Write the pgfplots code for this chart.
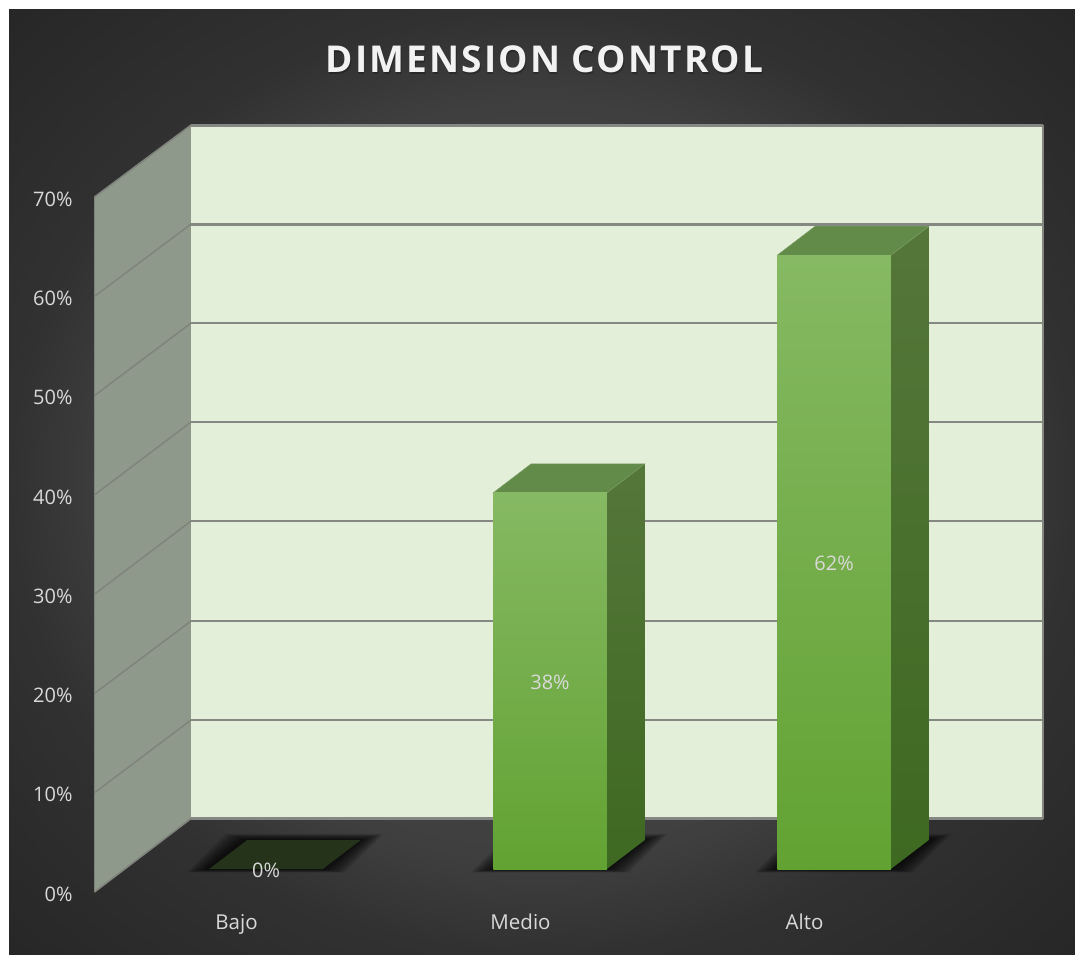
\documentclass[border=0pt]{standalone}
\usepackage{fontspec}
\usepackage{pgfplots}
\usepackage{pgfplotstable}
\pgfplotsset{compat=1.18}
\setmainfont{Open Sans}
\newfontfamily\titlefont[LetterSpace=5.8]{Open Sans}

\definecolor{lbl}{HTML}{D9D9D9}
\definecolor{wallback}{HTML}{E3EFD9}
\definecolor{wallside}{HTML}{8F998B}
\definecolor{gridc}{HTML}{858782}
\definecolor{sidegrid}{HTML}{7F837C}
\definecolor{face1}{HTML}{86B963}
\definecolor{face2}{HTML}{72B43E}
\definecolor{face3}{HTML}{62A232}
\definecolor{topface}{HTML}{628A48}
\definecolor{side1}{HTML}{55773A}
\definecolor{side2}{HTML}{3E6921}
\definecolor{zerotop}{HTML}{24331A}
\definecolor{bg0}{HTML}{505050}
\definecolor{bg1}{HTML}{3F3F3F}
\definecolor{bg2}{HTML}{313131}
\definecolor{bg3}{HTML}{262626}

\pgfdeclareradialshading{panelglow}{\pgfpointorigin}{%
  color(0bp)=(bg0); color(20bp)=(bg1); color(25bp)=(bg2); color(36bp)=(bg3); color(50bp)=(bg3)}

% Share of responses per level
\pgfplotstableread{
x v
0 0
1 38
2 62
}\levels

% Soft contact shadow on the floor under a column centred at #1
\newcommand{\floorshadow}[1]{%
  \pgfplotsinvokeforeach{1,...,18}{%
    \fill[black,opacity=.06]
      (axis cs:{#1-0.2-##1*0.0044},{-##1*0.019})
      -- (axis cs:{#1+0.2+##1*0.0044},{-##1*0.019})
      -- (axis cs:{#1+0.3338+##1*0.0044},{2.93+##1*0.034})
      -- (axis cs:{#1-0.0662-##1*0.0044},{2.93+##1*0.034})
      -- cycle;
  }%
}

\begin{document}
\begin{tikzpicture}
\useasboundingbox (0,0) rectangle (1075pt,954pt);
\fill[white] (0,0) rectangle (1075pt,954pt);
\shade[shading=panelglow] (9pt,0pt) rectangle (1075pt,944pt);

% Walls, gridlines and percent scale
\begin{axis}[
  at={(94.5pt,62pt)}, anchor=south west,
  scale only axis, width=948.5pt, height=695pt,
  xmin=0, xmax=948.5, ymin=0, ymax=70,
  clip=false, axis line style={draw=none},
  xtick=\empty,
  ytick={0,10,20,30,40,50,60,70},
  yticklabels={0\%,10\%,20\%,30\%,40\%,50\%,60\%,70\%},
  major tick length=0pt,
  tick label style={font=\fontsize{20}{24}\selectfont, text=lbl},
  yticklabel style={xshift=-18.5pt, yshift=-2pt},
  no markers,
]
\addplot[fill=wallside, draw=none] coordinates {(0,0) (96.5,7.4) (96.5,77.24) (0,70)} -- cycle;
\addplot[fill=wallback, draw=none] coordinates {(96.5,7.4) (948.5,7.4) (948.5,77.24) (96.5,77.24)} -- cycle;
% receding lines on the side wall
\addplot[sidegrid, line width=1.5pt] coordinates {(0,10) (96.5,17.32)};
\addplot[sidegrid, line width=1.5pt] coordinates {(0,20) (96.5,27.29)};
\addplot[sidegrid, line width=1.5pt] coordinates {(0,30) (96.5,37.36)};
\addplot[sidegrid, line width=1.5pt] coordinates {(0,40) (96.5,47.33)};
\addplot[sidegrid, line width=1.5pt] coordinates {(0,50) (96.5,57.3)};
\addplot[sidegrid, line width=1.5pt] coordinates {(0,60) (96.5,67.27)};
\addplot[sidegrid, line width=1.6pt] coordinates {(0,70) (96.5,77.24)};
\addplot[sidegrid, line width=1.6pt] coordinates {(0,0) (96.5,7.4)};
% horizontal lines on the back wall
\addplot[gridc, line width=2.8pt] coordinates {(96.5,17.32) (948.5,17.32)};
\addplot[gridc, line width=2.8pt] coordinates {(96.5,27.29) (948.5,27.29)};
\addplot[gridc, line width=2.8pt] coordinates {(96.5,37.36) (948.5,37.36)};
\addplot[gridc, line width=2.8pt] coordinates {(96.5,47.33) (948.5,47.33)};
\addplot[gridc, line width=2.8pt] coordinates {(96.5,57.3) (948.5,57.3)};
\addplot[gridc, line width=2.8pt] coordinates {(96.5,67.27) (948.5,67.27)};
\addplot[gridc, line width=2.8pt] coordinates {(96.5,77.24) (948.5,77.24)};
\addplot[gridc, line width=2.8pt] coordinates {(96.5,7.4) (948.5,7.4)};
\addplot[gridc, line width=1.2pt] coordinates {(948.5,7.4) (948.5,77.24)};
\addplot[sidegrid, line width=1pt] coordinates {(0,0) (0,70)};
\end{axis}

% Columns, their labels, category names and title
\begin{axis}[
  at={(0pt,62pt)}, anchor=south west,
  scale only axis, width=1075pt, height=882pt,
  xmin=-0.93662, xmax=2.8486, ymin=-2.323, ymax=86.768,
  clip=false, axis line style={draw=none},
  xtick={0,1,2}, xticklabels={Bajo,Medio,Alto},
  ytick=\empty, major tick length=0pt,
  tick label style={font=\fontsize{20.5}{24}\selectfont, text=lbl},
  xticklabel style={xshift=-29.5pt, yshift=-18pt, text height=16pt, text depth=5pt},
  /pgf/number format/assume math mode=true,
  no markers,
]
\floorshadow{0}
\floorshadow{1}
\floorshadow{2}

% zero-height column: only its top face remains, lying on the floor
\addplot[fill=zerotop, draw=none] coordinates {(-0.2,0) (0.2,0) (0.3338,2.93) (-0.0662,2.93)} -- cycle;

\addplot[shade, top color=side1, bottom color=side2, draw=none] coordinates {(1.2,0) (1.3338,2.93) (1.3338,40.93) (1.2,38)} -- cycle;
\addplot[fill=topface, draw=topface!85!white, line width=.5pt] coordinates {(0.8,38) (1.2,38) (1.3338,40.93) (0.9338,40.93)} -- cycle;
\addplot[shade, top color=side1, bottom color=side2, draw=none] coordinates {(2.2,0) (2.3338,2.93) (2.3338,64.93) (2.2,62)} -- cycle;
\addplot[fill=topface, draw=topface!85!white, line width=.5pt] coordinates {(1.8,62) (2.2,62) (2.3338,64.93) (1.9338,64.93)} -- cycle;

\addplot[ybar, bar width=113.5pt, draw=none, shade,
  top color=face1, middle color=face2, bottom color=face3]
  coordinates {(1,38)};
\addplot[ybar, bar width=113.5pt, draw=none, shade,
  top color=face1, middle color=face2, bottom color=face3]
  coordinates {(2,62)};

% value labels sit at mid-height of each column
\addplot[only marks, mark=none, point meta=\thisrow{v},
  nodes near coords={\pgfmathprintnumber{\pgfplotspointmeta}\%},
  every node near coord/.append style={anchor=center, yshift=-1pt, inner sep=0pt,
    font=\fontsize{20}{24}\selectfont, text=lbl}]
  table[x=x, y expr=\thisrow{v}/2] {\levels};

% heading with its soft cast shadow
\node[anchor=center, text=black, opacity=.25, xshift=.8pt, yshift=-1.8pt,
  font=\fontsize{37}{44}\selectfont]
  at (axis description cs:0.5065,0.9444) {\titlefont\bfseries DIMENSION CONTROL};
\node[anchor=center, text=white!95!black, font=\fontsize{37}{44}\selectfont]
  at (axis description cs:0.5065,0.9444) {\titlefont\bfseries DIMENSION CONTROL};
\end{axis}
\end{tikzpicture}
\end{document}
